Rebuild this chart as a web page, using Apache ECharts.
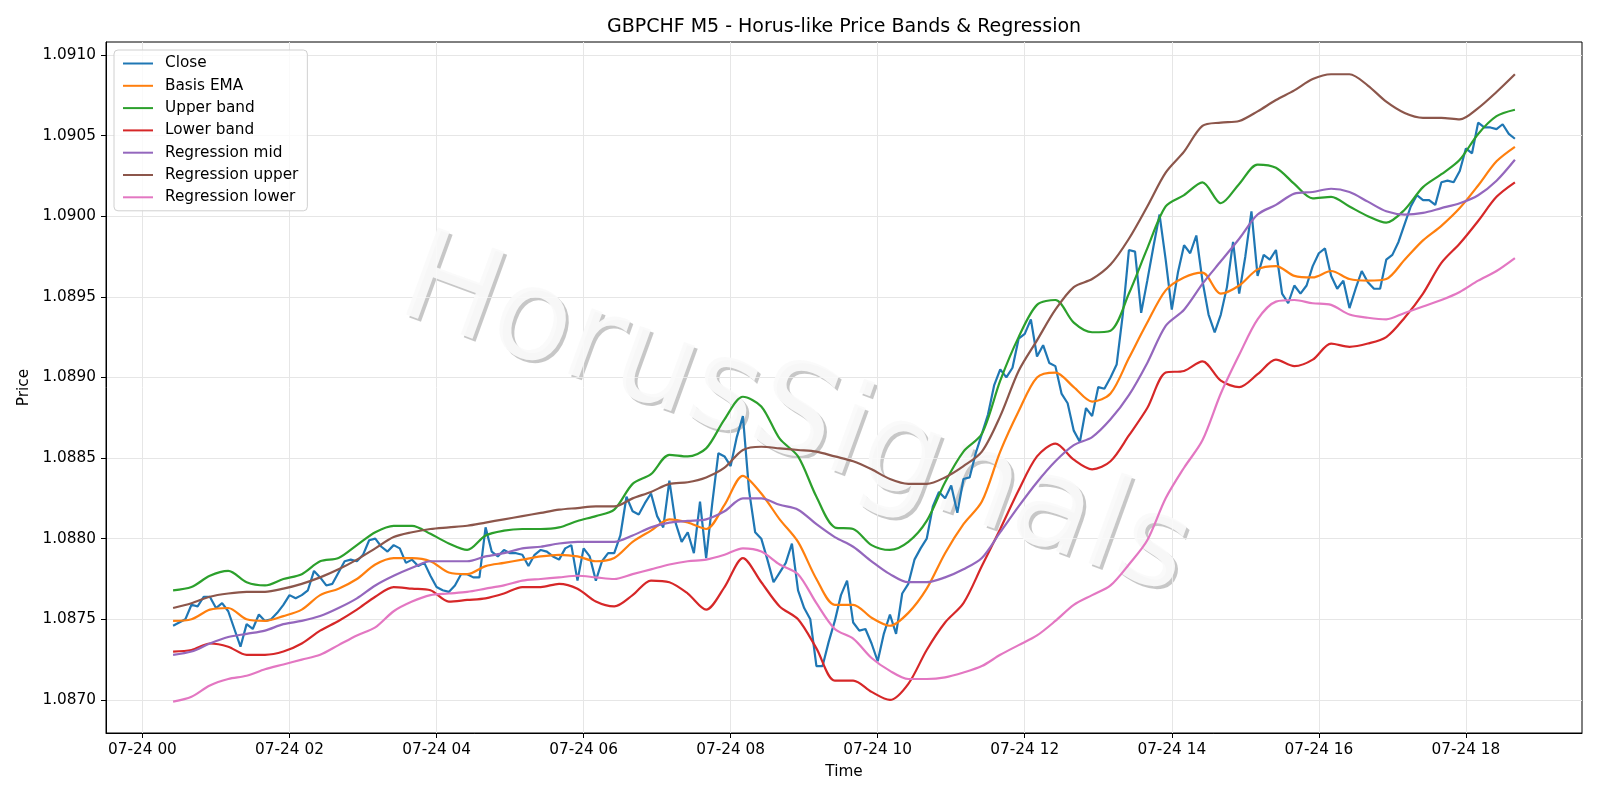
<!DOCTYPE html>
<html>
<head>
<meta charset="utf-8">
<title>GBPCHF M5 - Horus-like Price Bands &amp; Regression</title>
<script src="https://cdn.jsdelivr.net/npm/echarts@6/dist/echarts.min.js"></script>
<style>
  html, body { margin: 0; padding: 0; background: #fff; }
  #chart { width: 1600px; height: 800px; }
</style>
</head>
<body>
<div id="chart"></div>
<script>
// times are minutes after 07-24 00:00
const closeStart = 25
const closeStep = 5
const bandStart = 25
const bandStep = 15

// tick positions (minutes) and price ticks
const timeTicks = [0, 120, 240, 360, 480, 600, 720, 840, 960, 1080]
const priceTicks = [1.0870, 1.0875, 1.0880, 1.0885, 1.0890, 1.0895, 1.0900, 1.0905, 1.0910]

// M5 close, 00:25 .. 18:40
const close = [
  1.08746, 1.08748, 1.08750, 1.08759, 1.08758, 1.08764, 1.08764, 1.08757, 1.08760, 1.08755,
  1.08744, 1.08733, 1.08747, 1.08744, 1.08753, 1.08749, 1.08750, 1.08754, 1.08759, 1.08765,
  1.08763, 1.08765, 1.08768, 1.08780, 1.08776, 1.08771, 1.08772, 1.08779, 1.08786, 1.08787,
  1.08786, 1.08790, 1.08799, 1.08800, 1.08795, 1.08792, 1.08796, 1.08794, 1.08785, 1.08787,
  1.08783, 1.08785, 1.08777, 1.08770,
  1.08768, 1.08767, 1.08771, 1.08778, 1.08778, 1.08776, 1.08776, 1.08807, 1.08792, 1.08789,
  1.08793, 1.08791, 1.08791, 1.08790, 1.08783, 1.08790, 1.08793, 1.08792, 1.08789, 1.08787,
  1.08794, 1.08796, 1.08774, 1.08794,
  1.08789, 1.08774, 1.08786, 1.08791, 1.08791, 1.08802, 1.08826, 1.08817, 1.08815, 1.08822,
  1.08828, 1.08814, 1.08807, 1.08836, 1.08810, 1.08798, 1.08804, 1.08791, 1.08823, 1.08788,
  1.08822, 1.08853, 1.08851, 1.08845,
  1.08863, 1.08876, 1.08830, 1.08804, 1.08800, 1.08787, 1.08773, 1.08779, 1.08785, 1.08797,
  1.08768, 1.08757, 1.08750, 1.08721, 1.08721, 1.08736, 1.08749, 1.08765, 1.08774, 1.08748,
  1.08743, 1.08744, 1.08735, 1.08724,
  1.08741, 1.08753, 1.08741, 1.08766, 1.08772, 1.08787, 1.08794, 1.08800, 1.08820, 1.08829,
  1.08825, 1.08833, 1.08816, 1.08837, 1.08838, 1.08853, 1.08865, 1.08877, 1.08895, 1.08905,
  1.08900, 1.08906, 1.08924, 1.08927,
  1.08936, 1.08913, 1.08920, 1.08909, 1.08907, 1.08890, 1.08884, 1.08867, 1.08860, 1.08881,
  1.08876, 1.08894, 1.08893, 1.08900, 1.08908, 1.08939, 1.08979, 1.08978, 1.08940, 1.08960,
  1.08981, 1.09001, 1.08973, 1.08942,
  1.08965, 1.08982, 1.08977, 1.08988, 1.08960, 1.08939, 1.08928, 1.08939, 1.08956, 1.08984,
  1.08952, 1.08975, 1.09003, 1.08963, 1.08976, 1.08973, 1.08979, 1.08952, 1.08946, 1.08957,
  1.08952, 1.08957, 1.08969, 1.08977,
  1.08980, 1.08963, 1.08955, 1.08960, 1.08943, 1.08955, 1.08966, 1.08959, 1.08955, 1.08955,
  1.08973, 1.08976, 1.08984, 1.08995, 1.09006, 1.09013, 1.09010, 1.09010, 1.09007, 1.09021,
  1.09022, 1.09021, 1.09028, 1.09042, 1.09039, 1.09058, 1.09055, 1.09055, 1.09054, 1.09057,
  1.09051, 1.09048
]

// smoothed lines, read every 15 minutes
const basisEma = [
  1.08749, 1.08750, 1.08756, 1.08757, 1.08750, 1.08749, 1.08752,
  1.08756, 1.08765, 1.08769, 1.08775, 1.08784, 1.08788, 1.08788, 1.08786,
  1.08779, 1.08778, 1.08783, 1.08785, 1.08787, 1.08789, 1.08790, 1.08789,
  1.08786, 1.08788, 1.08798, 1.08805, 1.08812, 1.08810, 1.08806, 1.08821,
  1.08839, 1.08828, 1.08812, 1.08798, 1.08775, 1.08759, 1.08759, 1.08751,
  1.08746, 1.08754, 1.08769, 1.08791, 1.08809, 1.08823, 1.08854, 1.08879,
  1.08900, 1.08903, 1.08894, 1.08885, 1.08890, 1.08912, 1.08934, 1.08954,
  1.08962, 1.08965, 1.08952, 1.08957, 1.08967, 1.08969, 1.08963, 1.08962,
  1.08966, 1.08961, 1.08960, 1.08961, 1.08973, 1.08985, 1.08994, 1.09005, 1.09019, 1.09034, 1.09043
]
const upperBand = [
  1.08768, 1.08770, 1.08777, 1.08780, 1.08773, 1.08771, 1.08775,
  1.08778, 1.08786, 1.08788, 1.08796, 1.08804, 1.08808, 1.08808, 1.08803,
  1.08797, 1.08793, 1.08802, 1.08805, 1.08806, 1.08806, 1.08807, 1.08811,
  1.08814, 1.08818, 1.08834, 1.08840, 1.08852, 1.08851, 1.08856, 1.08874,
  1.08888, 1.08882, 1.08862, 1.08851, 1.08826, 1.08807, 1.08806, 1.08796,
  1.08793, 1.08798, 1.08811, 1.08835, 1.08854, 1.08865, 1.08898, 1.08925,
  1.08945, 1.08948, 1.08934, 1.08928, 1.08929, 1.08952, 1.08980, 1.09006,
  1.09013, 1.09021, 1.09008, 1.09020, 1.09032, 1.09030, 1.09020, 1.09011,
  1.09012, 1.09006, 1.09000, 1.08996, 1.09004, 1.09018, 1.09026, 1.09035, 1.09051, 1.09062, 1.09066
]
const lowerBand = [
  1.08730, 1.08731, 1.08735, 1.08733, 1.08728, 1.08728, 1.08730,
  1.08735, 1.08743, 1.08749, 1.08756, 1.08764, 1.08770, 1.08769, 1.08768,
  1.08761, 1.08762, 1.08763, 1.08766, 1.08770, 1.08770, 1.08772, 1.08769,
  1.08761, 1.08758, 1.08765, 1.08774, 1.08773, 1.08766, 1.08756, 1.08770,
  1.08788, 1.08773, 1.08758, 1.08750, 1.08732, 1.08712, 1.08712, 1.08705,
  1.08700, 1.08710, 1.08731, 1.08748, 1.08760, 1.08783, 1.08806, 1.08830,
  1.08851, 1.08859, 1.08849, 1.08843, 1.08848, 1.08864, 1.08881, 1.08903,
  1.08904, 1.08910, 1.08898, 1.08894, 1.08902, 1.08911, 1.08907, 1.08911,
  1.08921, 1.08919, 1.08921, 1.08925, 1.08937, 1.08952, 1.08971, 1.08983, 1.08997, 1.09012, 1.09021
]
const regMid = [
  1.08728, 1.08730, 1.08735, 1.08739, 1.08741, 1.08743, 1.08747,
  1.08749, 1.08752, 1.08757, 1.08763, 1.08771, 1.08777, 1.08782, 1.08786,
  1.08786, 1.08786, 1.08789, 1.08791, 1.08794, 1.08795, 1.08797, 1.08798,
  1.08798, 1.08798, 1.08802, 1.08807, 1.08810, 1.08811, 1.08812, 1.08817,
  1.08825, 1.08825, 1.08821, 1.08818, 1.08809, 1.08801, 1.08795, 1.08786,
  1.08778, 1.08773, 1.08773, 1.08776, 1.08781, 1.08788, 1.08804, 1.08820,
  1.08835, 1.08848, 1.08858, 1.08863, 1.08874, 1.08889, 1.08909, 1.08932,
  1.08942, 1.08958, 1.08972, 1.08986, 1.09001, 1.09007, 1.09014, 1.09015,
  1.09017, 1.09015, 1.09009, 1.09003, 1.09001, 1.09002, 1.09005, 1.09008, 1.09013, 1.09022, 1.09035
]
const regUpper = [
  1.08757, 1.08760, 1.08764, 1.08766, 1.08767, 1.08767, 1.08769,
  1.08772, 1.08776, 1.08781, 1.08787, 1.08794, 1.08801, 1.08804, 1.08806,
  1.08807, 1.08808, 1.08810, 1.08812, 1.08814, 1.08816, 1.08818, 1.08819,
  1.08820, 1.08820, 1.08825, 1.08829, 1.08834, 1.08835, 1.08838, 1.08844,
  1.08855, 1.08857, 1.08856, 1.08855, 1.08854, 1.08851, 1.08848, 1.08843,
  1.08837, 1.08834, 1.08834, 1.08838, 1.08845, 1.08854, 1.08876, 1.08904,
  1.08923, 1.08942, 1.08956, 1.08961, 1.08970, 1.08986, 1.09006, 1.09027,
  1.09040, 1.09056, 1.09058, 1.09059, 1.09065, 1.09072, 1.09078, 1.09085,
  1.09088, 1.09088, 1.09081, 1.09071, 1.09064, 1.09061, 1.09061, 1.09060, 1.09067, 1.09077, 1.09088
]
const regLower = [
  1.08699, 1.08702, 1.08709, 1.08713, 1.08715, 1.08719, 1.08722,
  1.08725, 1.08728, 1.08734, 1.08740, 1.08745, 1.08755, 1.08761, 1.08765,
  1.08766, 1.08767, 1.08769, 1.08771, 1.08774, 1.08775, 1.08776, 1.08777,
  1.08776, 1.08775, 1.08778, 1.08781, 1.08784, 1.08786, 1.08787, 1.08790,
  1.08794, 1.08792, 1.08784, 1.08778, 1.08760, 1.08744, 1.08738, 1.08726,
  1.08718, 1.08713, 1.08713, 1.08714, 1.08717, 1.08721, 1.08728, 1.08734,
  1.08740, 1.08749, 1.08759, 1.08765, 1.08771, 1.08784, 1.08799, 1.08825,
  1.08844, 1.08861, 1.08890, 1.08914, 1.08936, 1.08947, 1.08948, 1.08946,
  1.08945, 1.08939, 1.08937, 1.08936, 1.08940, 1.08944, 1.08948, 1.08953, 1.08960, 1.08966, 1.08974
]

const seriesNames = ['Close', 'Basis EMA', 'Upper band', 'Lower band',
  'Regression mid', 'Regression upper', 'Regression lower']
const seriesColors = ['#1f77b4', '#ff7f0e', '#2ca02c', '#d62728', '#9467bd', '#8c564b', '#e377c2']

const toPairs = (arr, start, step) => arr.map((v, i) => [start + i * step, v])
const seriesData = [
  toPairs(close, closeStart, closeStep),
  toPairs(basisEma, bandStart, bandStep),
  toPairs(upperBand, bandStart, bandStep),
  toPairs(lowerBand, bandStart, bandStep),
  toPairs(regMid, bandStart, bandStep),
  toPairs(regUpper, bandStart, bandStep),
  toPairs(regLower, bandStart, bandStep)
]

const font = 'DejaVu Sans'
const pad2 = n => (n < 10 ? '0' : '') + n
const wmRot = -20 * Math.PI / 180

const chart = echarts.init(document.getElementById('chart'))
chart.setOption({
  animation: false,
  backgroundColor: '#fff',
  textStyle: { fontFamily: font },
  title: {
    text: 'GBPCHF M5 - Horus-like Price Bands & Regression',
    left: 844,
    top: 18,
    textAlign: 'center',
    padding: 0,
    textStyle: { fontFamily: font, fontSize: 19, fontWeight: 'normal', color: '#000' }
  },
  legend: {
    data: seriesNames,
    orient: 'vertical',
    left: 114,
    top: 50,
    icon: 'rect',
    itemWidth: 30,
    itemHeight: 2,
    itemGap: 7.3,
    padding: [6, 9, 6, 9],
    backgroundColor: 'rgba(255,255,255,0.8)',
    borderColor: '#d0d0d0',
    borderWidth: 1,
    borderRadius: 4,
    textStyle: { fontFamily: font, fontSize: 15.3, color: '#000', lineHeight: 15, padding: [0, 0, 0, 7] }
  },
  grid: {
    left: 106,
    right: 18,
    top: 42,
    bottom: 67,
    show: true,
    borderColor: '#000',
    borderWidth: 1,
    backgroundColor: 'transparent'
  },
  graphic: [
    {
      type: 'text', x: 798, y: 424, rotation: wmRot, z: 0, silent: true,
      style: {
        text: 'HorusSignals', fontFamily: font, fontSize: 127,
        fill: 'rgba(0,0,0,0.22)', textAlign: 'center', textVerticalAlign: 'middle', verticalAlign: 'middle'
      }
    },
    {
      type: 'text', x: 795, y: 421, rotation: wmRot, z: 1, silent: true,
      style: {
        text: 'HorusSignals', fontFamily: font, fontSize: 127,
        fill: 'rgba(250,250,250,0.95)', textAlign: 'center', textVerticalAlign: 'middle', verticalAlign: 'middle'
      }
    }
  ],
  xAxis: {
    type: 'value',
    min: -29.75,
    max: 1174.75,
    minInterval: 120,
    maxInterval: 120,
    name: 'Time',
    nameLocation: 'middle',
    nameGap: 32,
    nameTextStyle: { fontFamily: font, fontSize: 15.3, color: '#000' },
    axisLine: { onZero: false, lineStyle: { color: '#000', width: 1 } },
    axisTick: { length: 5, customValues: timeTicks, lineStyle: { color: '#000' } },
    axisLabel: {
      fontFamily: font, fontSize: 15.3, color: '#000', margin: 10,
      customValues: timeTicks,
      formatter: v => (v % 120 === 0 ? '07-24 ' + pad2(v / 60) : '')
    },
    splitLine: { show: true, lineStyle: { color: '#e6e6e6', width: 1 } }
  },
  yAxis: {
    type: 'value',
    min: 1.086795,
    max: 1.09108,
    minInterval: 0.0005,
    maxInterval: 0.0005,
    name: 'Price',
    nameLocation: 'middle',
    nameGap: 66,
    nameTextStyle: { fontFamily: font, fontSize: 15.3, color: '#000' },
    axisLine: { show: true, onZero: false, lineStyle: { color: '#000', width: 1 } },
    axisTick: { show: true, length: 5, customValues: priceTicks, lineStyle: { color: '#000' } },
    axisLabel: {
      fontFamily: font, fontSize: 15.3, color: '#000', margin: 10,
      customValues: priceTicks,
      formatter: v => v.toFixed(4)
    },
    splitLine: { show: true, lineStyle: { color: '#e6e6e6', width: 1 } }
  },
  series: seriesNames.map((name, i) => ({
    name: name,
    type: 'line',
    data: seriesData[i],
    showSymbol: false,
    symbol: 'none',
    smooth: i === 0 ? false : 0.3,
    z: 3 + i,
    color: seriesColors[i],
    lineStyle: { color: seriesColors[i], width: 2.2 }
  }))
})
</script>
</body>
</html>
